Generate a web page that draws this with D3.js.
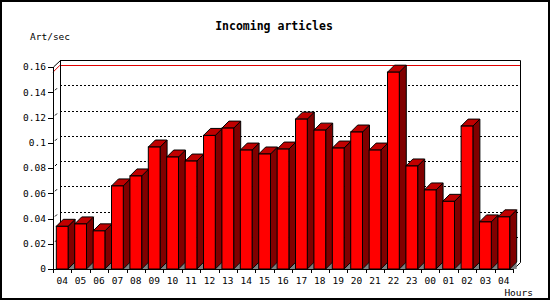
<!DOCTYPE html>
<html>
<head>
<meta charset="utf-8">
<script src="https://cdn.jsdelivr.net/npm/d3@7"></script>
<style>
  html, body { margin: 0; padding: 0; background: #fff; }
  svg { display: block; }
  text { font-family: "DejaVu Sans Mono", "Liberation Mono", monospace; fill: #000; }
</style>
</head>
<body>
<div id="chart"></div>
<script>
// Hours of the day (last 24h + current)
const hours = ['04', '05', '06', '07', '08', '09', '10', '11', '12', '13', '14', '15', '16',
  '17', '18', '19', '20', '21', '22', '23', '00', '01', '02', '03', '04'];

// Incoming articles per second
const artPerSec = [0.0338, 0.0357, 0.0302, 0.0658, 0.0737, 0.0966, 0.0887, 0.0855, 0.1058,
  0.1116, 0.0942, 0.0911, 0.0950, 0.1187, 0.1100, 0.0958, 0.1085, 0.0942, 0.1559, 0.0816,
  0.0626, 0.0536, 0.1132, 0.0373, 0.0413];

const yTicks = [0, 0.02, 0.04, 0.06, 0.08, 0.1, 0.12, 0.14, 0.16];

const width = 550;
const height = 300;
const depth = 7; // 3D offset (right / up)

// front plane
const plotLeft = 53, plotRight = 513, plotBottom = 269, plotTop = 67;

const svg = d3.select('#chart').append('svg')
  .attr('width', width)
  .attr('height', height);

svg.append('rect')
  .attr('x', 1).attr('y', 1)
  .attr('width', width - 2).attr('height', height - 2)
  .style('fill', '#fff')
  .style('stroke', '#000')
  .style('stroke-width', 2);

const idx = hours.map((d, i) => i);

const x = d3.scaleBand()
  .domain(idx)
  .range([plotLeft, plotRight])
  .paddingInner(0.36)
  .paddingOuter(0.18);

const y = d3.scaleLinear()
  .domain([0, 0.16])
  .range([plotBottom, plotTop]);

const bx = plotLeft + depth;   // back wall left
const bxr = plotRight + depth; // back wall right
const back = v => y(v) - depth;

// Back wall grid (dashed)
const grid = svg.append('g').attr('class', 'grid');
yTicks.filter(t => t > 0 && t < 0.16).forEach(t => {
  grid.append('line')
    .attr('x1', bx).attr('x2', bxr)
    .attr('y1', Math.round(back(t)) + 0.5).attr('y2', Math.round(back(t)) + 0.5)
    .style('stroke', '#000')
    .style('stroke-dasharray', '2,2');
  // left wall
  grid.append('line')
    .attr('x1', plotLeft + 2).attr('x2', plotLeft + 4)
    .attr('y1', y(t) - 2).attr('y2', y(t) - 4)
    .style('stroke', '#000');
});

// max line
const maxV = d3.max(artPerSec);
svg.append('line')
  .attr('x1', bx).attr('x2', bxr)
  .attr('y1', Math.round(back(maxV)) + 0.5).attr('y2', Math.round(back(maxV)) + 0.5)
  .style('stroke', '#e00000');
svg.append('line')
  .attr('x1', plotLeft).attr('x2', bx)
  .attr('y1', y(maxV)).attr('y2', back(maxV))
  .style('stroke', '#e00000');

// frame
const frame = svg.append('g')
  .style('stroke', '#000')
  .style('fill', 'none');
frame.append('path')
  .attr('d', `M${plotLeft + 0.5},${y(0.16)}L${bx + 0.5},${back(0.16) + 0.5}H${bxr + 0.5}V${back(0) + 0.5}L${plotRight + 0.5},${plotBottom + 0.5}`);
frame.append('line')
  .attr('x1', bx + 0.5).attr('x2', bx + 0.5)
  .attr('y1', back(0.16)).attr('y2', back(0));

// bars
const bars = svg.append('g').attr('class', 'bars')
  .selectAll('g')
  .data(artPerSec)
  .join('g');

const bw = x.bandwidth();

bars.append('path') // floor shadow
  .attr('d', (d, i) => {
    const r = x(i) + bw;
    return `M${r},${plotBottom}L${r + depth},${plotBottom - depth}L${r + depth},${plotBottom}Z`;
  })
  .style('fill', '#808080');

bars.append('path') // side
  .attr('d', (d, i) => {
    const r = x(i) + bw;
    return `M${r},${y(d)}L${r + depth},${y(d) - depth}L${r + depth},${plotBottom - depth}L${r},${plotBottom}Z`;
  })
  .style('fill', '#800000')
  .style('stroke', '#000')
  .style('stroke-linejoin', 'round');

bars.append('path') // top
  .attr('d', (d, i) => {
    const l = x(i);
    return `M${l},${y(d)}L${l + depth},${y(d) - depth}L${l + bw + depth},${y(d) - depth}L${l + bw},${y(d)}Z`;
  })
  .style('fill', '#c00000')
  .style('stroke', '#000')
  .style('stroke-linejoin', 'round');

bars.append('rect') // front
  .attr('x', (d, i) => x(i))
  .attr('y', d => y(d))
  .attr('width', bw)
  .attr('height', d => plotBottom - y(d))
  .style('fill', '#ff0000')
  .style('stroke', '#000');

// axes
const axes = svg.append('g').style('stroke', '#000');
axes.append('line')
  .attr('x1', plotLeft + 0.5).attr('x2', plotLeft + 0.5)
  .attr('y1', y(0.16)).attr('y2', plotBottom + 0.5);
axes.append('line')
  .attr('x1', plotLeft).attr('x2', plotRight + 1)
  .attr('y1', plotBottom + 0.5).attr('y2', plotBottom + 0.5);

yTicks.forEach(t => {
  axes.append('line')
    .attr('x1', plotLeft - 5).attr('x2', plotLeft)
    .attr('y1', Math.round(y(t)) + 0.5).attr('y2', Math.round(y(t)) + 0.5);
  svg.append('text')
    .attr('x', plotLeft - 7)
    .attr('y', y(t))
    .attr('dy', '0.35em')
    .attr('text-anchor', 'end')
    .style('font-size', '9.5px')
    .text(d3.format('~g')(t));
});

hours.forEach((h, i) => {
  const tx = Math.round(x.range()[0] + i * x.step()) + 0.5;
  axes.append('line')
    .attr('x1', tx).attr('x2', tx)
    .attr('y1', plotBottom).attr('y2', plotBottom + 4);
  svg.append('text')
    .attr('x', x(i) + bw / 2)
    .attr('y', 284)
    .attr('text-anchor', 'middle')
    .style('font-size', '9.5px')
    .text(h);
});
axes.append('line')
  .attr('x1', plotRight + 0.5).attr('x2', plotRight + 0.5)
  .attr('y1', plotBottom).attr('y2', plotBottom + 4);

// titles
svg.append('text')
  .attr('x', 274)
  .attr('y', 30)
  .attr('text-anchor', 'middle')
  .style('font-size', '11.5px')
  .style('font-weight', 'bold')
  .text('Incoming articles');

svg.append('text')
  .attr('x', 30)
  .attr('y', 40)
  .style('font-size', '9.5px')
  .text('Art/sec');

svg.append('text')
  .attr('x', 533)
  .attr('y', 296)
  .attr('text-anchor', 'end')
  .style('font-size', '9.5px')
  .text('Hours');
</script>
</body>
</html>
